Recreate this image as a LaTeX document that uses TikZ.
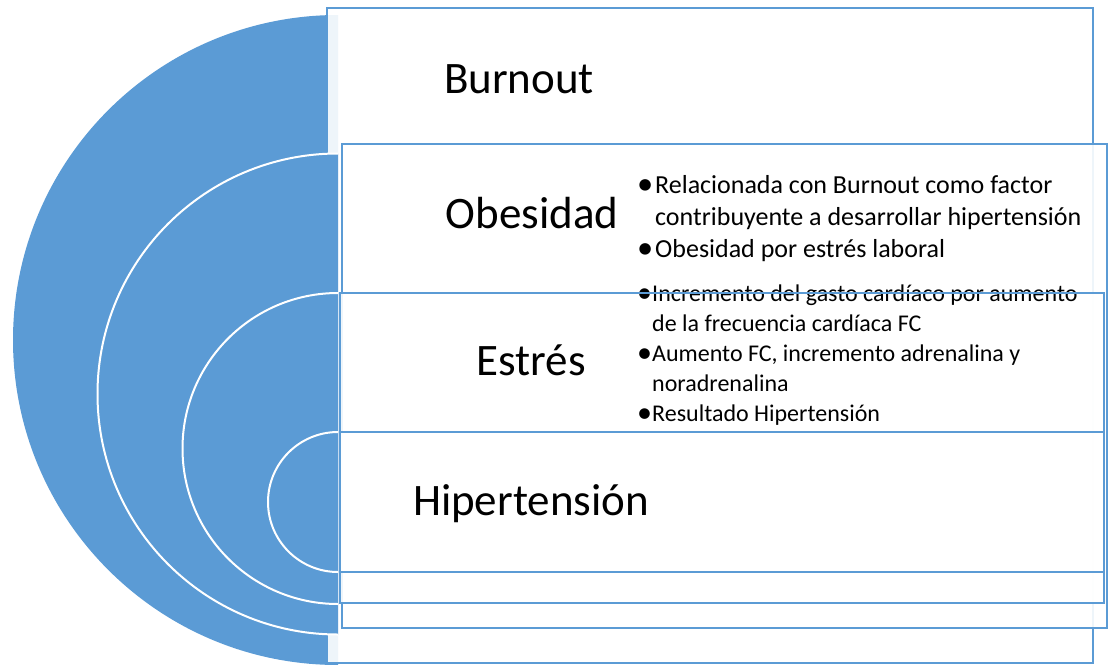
\documentclass[tikz,border=0pt]{standalone}
\usepackage{graphicx}
\usepackage{fontspec}
\setmainfont{Carlito}
\newcommand{\bul}{\raisebox{-0.06em}{\scalebox{1.25}{•}}}
\definecolor{sblue}{HTML}{5B9BD5}
\begin{document}
\begin{tikzpicture}[x=1pt,y=-1pt,
  panel/.style={draw=sblue, line width=1.8pt, fill=white, fill opacity=0.9, draw opacity=1},
  panelline/.style={draw=sblue, line width=1.8pt},
  ring/.style={fill=sblue, draw=white, line width=2pt},
  title/.style={anchor=base, inner sep=0pt, font=\fontsize{45}{54}\selectfont},
  bullets/.style={anchor=base west, inner sep=0pt}]
\useasboundingbox (0,0) rectangle (1111,664);
% outer target
\begin{scope}
  \clip (0,0) rectangle (338,664);
  \fill[sblue] (338,340) circle (325);
\end{scope}
% panel 1
\path[panel] (327,8) rectangle (1093,663);
% inner rings
\begin{scope}
  \clip (0,0) rectangle (338,664);
  \path[ring] (338,394) circle (240.5);
  \path[ring] (338,448.5) circle (155.5);
  \path[ring] (338,502) circle (70);
\end{scope}
% panels 2-4
\path[panel] (342,144) rectangle (1107,628);
\path[panel] (340,293) rectangle (1104,603);
\path[panel] (340,432) rectangle (1104,572);
% titles
\node[title] (burnout) at (519,93) {Burnout};
\node[title] (obesidad) at (532,228) {Obesidad};
\node[title] (estres) at (531,375) {Estrés};
\node[title] (hiper) at (531,515) {Hipertensión};
% bullet texts
\node[bullets] (obtext) at (637,193) {\fontsize{26}{32}\selectfont
  \begin{tabular}[t]{@{}p{18pt}@{}l@{}}
  \bul&Relacionada con Burnout como factor\\
  &contribuyente a desarrollar hipertensión\\
  \bul&Obesidad por estrés laboral
  \end{tabular}};
\node[bullets] (estext) at (637,301) {\fontsize{24}{30}\selectfont
  \begin{tabular}[t]{@{}p{15pt}@{}l@{}}
  \bul&Incremento del gasto cardíaco por aumento\\
  &de la frecuencia cardíaca FC\\
  \bul&Aumento FC, incremento adrenalina y\\
  &noradrenalina\\
  \bul&Resultado Hipertensión
  \end{tabular}};
% top border of panel 3 over its text
\draw[panelline] (340,293) -- (1104,293);
\end{tikzpicture}
\end{document}
